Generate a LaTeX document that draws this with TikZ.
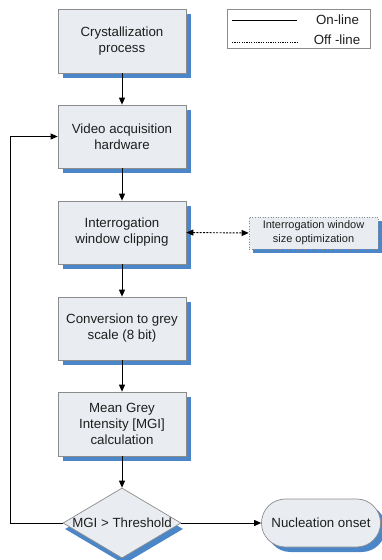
\documentclass[tikz,border=0pt]{standalone}
\usepackage{fontspec}
\setmainfont{Liberation Sans}
\usetikzlibrary{arrows.meta,shapes.geometric,shadows}
\definecolor{boxfill}{RGB}{233,237,241}
\definecolor{boxline}{RGB}{140,140,140}
\definecolor{shadowblue}{RGB}{74,134,200}
\definecolor{txt}{RGB}{30,30,30}
\begin{document}
\begin{tikzpicture}[x=1pt,y=-1pt,
  font=\fontsize{13.3}{16}\selectfont, text=txt,
  procbox/.style={draw=boxline, line width=0.7pt, fill=boxfill, align=center,
    minimum width=128pt, minimum height=64pt, inner sep=0pt,
    drop shadow={shadow xshift=5pt, shadow yshift=-5pt, fill=shadowblue, opacity=1}},
  arr/.style={line width=0.9pt, -{Triangle[length=7pt,width=6pt]}},
  darr/.style={line width=0.9pt, dash pattern=on 2pt off 1.3pt,
    {Triangle[length=7pt,width=6pt]}-{Triangle[length=7pt,width=6pt]}}]
\useasboundingbox (0,0) rectangle (382,560);

\node[procbox] (c1) at (122,41) {Crystallization\\process};
\node[procbox, minimum height=63pt] (c2) at (122,136.5) {Video acquisition\\hardware};
\node[procbox, minimum height=63pt] (c3) at (122,232.5) {Interrogation\\window clipping};
\node[procbox, minimum height=63pt] (c4) at (122,328.5) {Conversion to grey\\scale (8 bit)};
\node[procbox] (c5) at (122,424) {Mean Grey\\Intensity [MGI]\\calculation};
\node[diamond, draw=boxline, line width=0.7pt, fill=boxfill, inner sep=0pt,
  minimum width=118pt, minimum height=70pt, aspect=1.69,
  drop shadow={shadow xshift=2pt, shadow yshift=-6pt, fill=shadowblue, opacity=1}]
  (d) at (122,523) {MGI > Threshold};
\node[draw=boxline, line width=0.7pt, fill=boxfill, rounded corners=23.9pt,
  minimum width=119pt, minimum height=48pt, inner sep=0pt,
  drop shadow={shadow xshift=5pt, shadow yshift=-5pt, fill=shadowblue, opacity=1}]
  (n) at (321,523) {Nucleation onset};
\node[draw=boxline, line width=0.6pt, dotted, fill=boxfill, align=center,
  minimum width=129pt, minimum height=32pt, inner sep=0pt,
  font=\fontsize{11}{14}\selectfont,
  drop shadow={shadow xshift=4pt, shadow yshift=-4pt, fill=shadowblue, opacity=1}]
  (opt) at (313.5,233) {Interrogation window\\size optimization};

% legend
\node[draw=boxline, line width=0.6pt, fill=white, minimum width=143pt,
  minimum height=39pt, inner sep=0pt] (leg) at (298.5,28.5) {};
\coordinate (ls1) at (232,20);
\coordinate (ls2) at (297,20);
\coordinate (ld1) at (232,42);
\coordinate (ld2) at (297,42);
\draw[line width=0.9pt] (ls1) -- (ls2);
\draw[line width=0.9pt, dash pattern=on 1.2pt off 1.2pt] (ld1) -- (ld2);
\node (lon) at (337.5,19.5) {On-line};
\node (loff) at (337,39.5) {Off -line};

% connectors
\draw[arr] (c1.south) -- (c2.north);
\draw[arr] (c2.south) -- (c3.north);
\draw[arr] (c3.south) -- (c4.north);
\draw[arr] (c4.south) -- (c5.north);
\draw[arr] (c5.south) -- (d.north);
\draw[arr] (d.east) -- (n.west);
\draw[darr] (c3.east) -- (opt.west);
\coordinate (fb) at (10,523);
\draw[arr] (d.west) -- (fb) |- (c2.west);
\end{tikzpicture}
\end{document}
